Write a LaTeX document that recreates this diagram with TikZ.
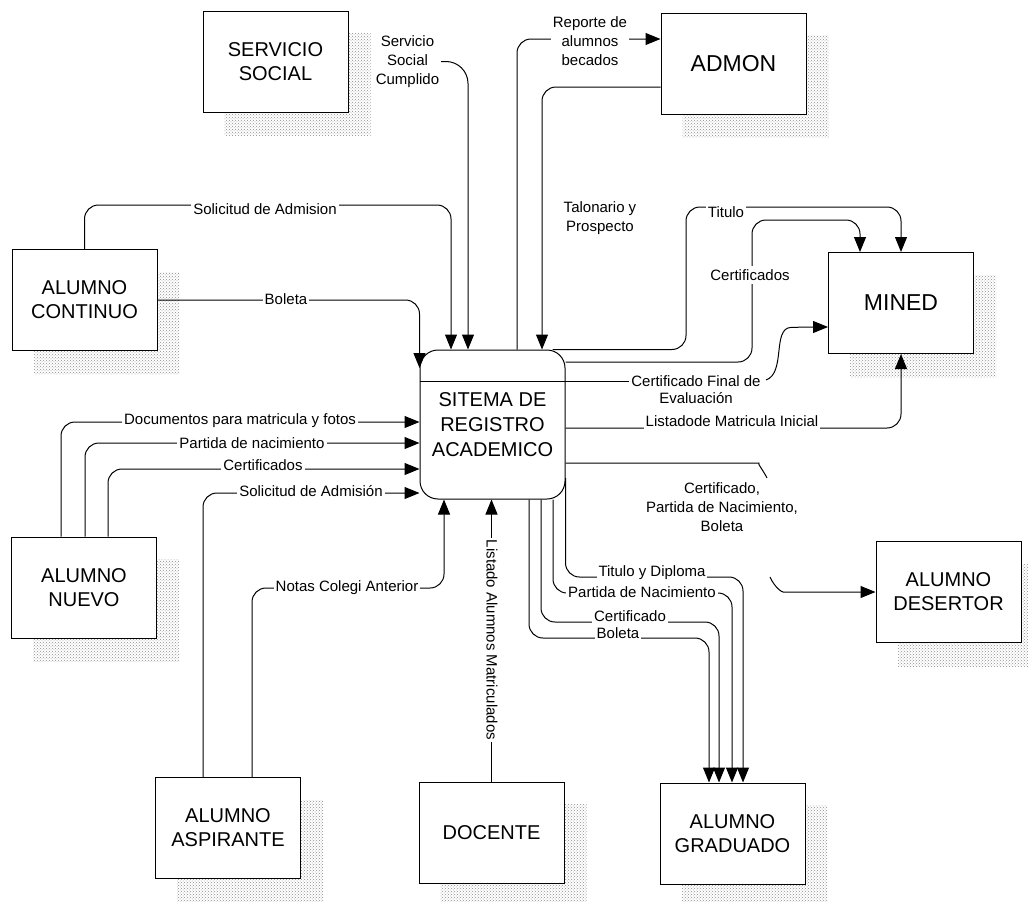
\documentclass[tikz,border=0pt]{standalone}
\usepackage{fontspec}
\setmainfont{Liberation Sans}
\usetikzlibrary{arrows.meta,patterns}
\pgfdeclarelayer{background}
\pgfdeclarelayer{fg}
\pgfsetlayers{background,main,fg}
\begin{document}
\begin{tikzpicture}[x=1pt,y=-1pt,
  ent/.style={draw,fill=white,line width=1pt,minimum width=145pt,minimum height=101pt,inner sep=0pt,align=center,font=\fontsize{20}{24}\selectfont},
  bigent/.style={ent,font=\fontsize{23}{27}\selectfont},
  proc/.style={draw,fill=white,line width=1pt,rounded corners=18pt,minimum width=145pt,minimum height=149pt,inner sep=0pt,align=center,font=\fontsize{20}{25}\selectfont},
  flow/.style={line width=1pt,rounded corners=14pt},
  arr/.style={flow,-{Triangle[length=15pt,width=12pt]}},
  lbl/.style={fill=white,inner xsep=2pt,inner ysep=3pt,align=center,font=\fontsize{15}{19}\selectfont},
  note/.style={lbl,fill=none},
  shadowfill/.style={pattern=crosshatch dots,pattern color=black!45}
]
\useasboundingbox (0,0) rectangle (1028,902);

% ---------- entities ----------
\node[ent] (svc) at (275.5,61.5) {SERVICIO\\SOCIAL};
\node[bigent] (admon) at (733.5,63.5) {ADMON};
\node[ent] (cont) at (84.5,300) {ALUMNO\\CONTINUO};
\node[ent] (nuevo) at (84,587.5) {ALUMNO\\NUEVO};
\node[bigent] (mined) at (901,303) {MINED};
\node[ent] (deser) at (948.5,592) {ALUMNO\\DESERTOR};
\node[ent] (asp) at (228,828) {ALUMNO\\ASPIRANTE};
\node[ent] (doc) at (491.5,832.5) {DOCENTE};
\node[ent] (grad) at (732.5,833.5) {ALUMNO\\GRADUADO};
\node[proc] (ctr) at (492.5,424.5) {SITEMA DE\\REGISTRO\\ACADEMICO};
\draw[line width=1pt] (ctr.west |- 0,381) -- (ctr.east |- 0,381);

% ---------- shadows ----------
\begin{pgfonlayer}{background}
\foreach \n in {svc,admon,cont,nuevo,mined,deser,asp,doc,grad}
  \fill[shadowfill] ([shift={(22,23)}]\n.north west) rectangle ([shift={(22,23)}]\n.south east);
\end{pgfonlayer}

% ---------- labels ----------
\begin{pgfonlayer}{fg}
\node[lbl] (l1) at (265,209) {Solicitud de Admision};
\node[lbl] (l2) at (407.5,61.5) {Servicio\\Social\\Cumplido};
\node[lbl] (l3) at (590,41.5) {Reporte de\\alumnos\\becados};
\node[note] (l4) at (600,218) {Talonario y\\Prospecto};
\node[lbl] (l5) at (286,299) {Boleta};
\node[lbl] (l6) at (240,421) {Documentos para matricula y fotos};
\node[lbl] (l7) at (252,443) {Partida de nacimiento};
\node[lbl] (l8) at (263,465) {Certificados};
\node[lbl] (l9) at (311,491) {Solicitud de Admisión};
\node[lbl] (l10) at (347,588) {Notas Colegi Anterior};
\node[lbl,rotate=-90] (l11) at (492,640) {Listado Alumnos Matriculados};
\node[lbl] (l12) at (726,212) {Titulo};
\node[lbl] (l13) at (750,275) {Certificados};
\node[lbl] (l14) at (696,390) {Certificado Final de\\[-2pt]Evaluación};
\node[lbl,inner ysep=3.5pt] (l15) at (732,421) {Listadode Matricula Inicial};
\node[note] (l16) at (722,507.5) {Certificado,\\Partida de Nacimiento,\\Boleta};
\node[lbl] (l17) at (652,573) {Titulo y Diploma};
\node[lbl] (l18) at (642,592) {Partida de Nacimiento};
\node[lbl] (l19) at (630,616) {Certificado};
\node[lbl] (l20) at (618,633) {Boleta};
\end{pgfonlayer}

% ---------- flows into the process ----------
\draw[arr] (cont.north) |- (451,205) -- (ctr.north -| 451,0);
\draw[arr,rounded corners=22pt] ([xshift=-12pt]l2.east) -| (ctr.north -| 468,0);
\draw[arr] (admon.west |- 0,87) -| (ctr.north -| 542,0);
\draw[arr] (cont.east) -| (ctr.west |- 0,368);
\draw[arr] (nuevo.north -| 61,0) |- (ctr.west |- 0,422);
\draw[arr] (nuevo.north -| 85,0) |- (ctr.west |- 0,443);
\draw[arr] (nuevo.north -| 108,0) |- (ctr.west |- 0,469);
\draw[arr] (asp.north -| 203,0) |- (ctr.west |- 0,493);
\draw[arr] (asp.north -| 252,0) |- (444,588) -- (ctr.south -| 444,0);
\draw[arr] (doc.north) -- (ctr.south -| doc.north);

% ---------- flows out of the process ----------
\draw[arr] (ctr.north -| 517,0) |- (admon.west |- 0,39);
\draw[arr] ([xshift=60pt]ctr.north) -| (686,207) -| (mined.north);
\draw[arr] (ctr.east |- 0,362) -| (752,220) -| ([xshift=-41pt]mined.north);
\draw[flow] (ctr.east |- 0,381) -- (l14.center |- 0,381);
\coordinate (cfe) at (766,380);
\draw[arr] (cfe) .. controls (786,373) and (772,328) .. (805,327) -- (mined.west |- 0,327);
\draw[arr] (ctr.east |- 0,428) -| (mined.south);

\coordinate (d1) at (767,478);
\coordinate (d2) at (770,577);
\draw[flow] (ctr.east |- 0,463) -- (745,463) .. controls (757,463) and (763,470) .. (d1);
\draw[arr] (d2) .. controls (775,588) and (782,592) .. (797,592) -- (deser.west);

\draw[arr] (ctr.east |- 0,478) |- (743,577) -- (grad.north -| 743,0);
\draw[arr] (ctr.south -| 553,0) |- (732,593) -- (grad.north -| 732,0);
\draw[arr] (ctr.south -| 541,0) |- (719,622) -- (grad.north -| 719,0);
\draw[arr] (ctr.south -| 529,0) |- (709,638) -- (grad.north -| 709,0);
\end{tikzpicture}
\end{document}
